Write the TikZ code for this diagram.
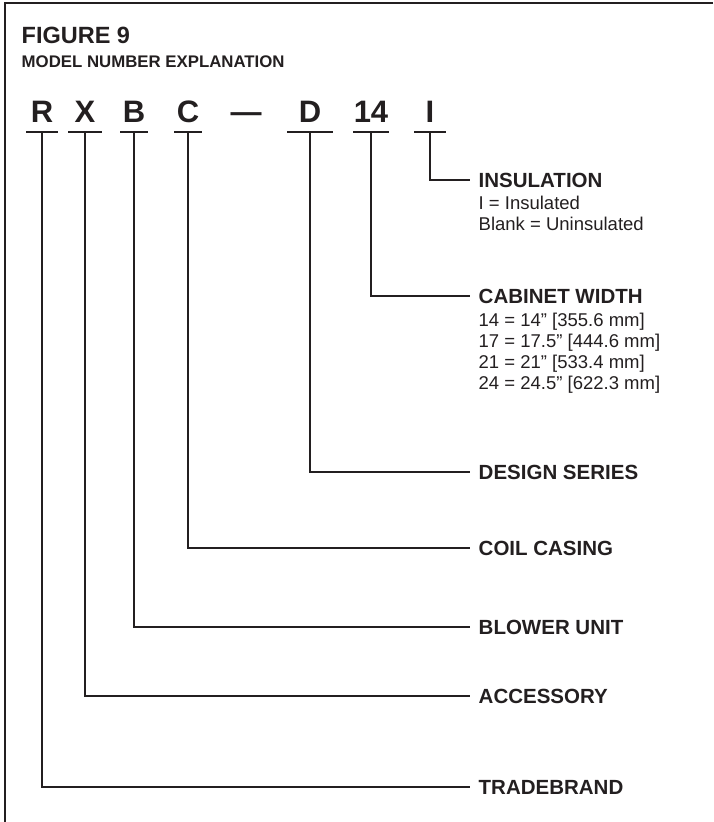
\documentclass[tikz,border=0pt]{standalone}
\usepackage{fontspec}
\setmainfont{Liberation Sans}
\definecolor{ink}{HTML}{231F20}
\begin{document}
\begin{tikzpicture}[x=1pt, y=-1pt, line width=1.4pt, color=ink,
    code/.style={font=\bfseries\fontsize{31}{31}\selectfont, anchor=base, inner sep=0pt},
    field/.style={font=\bfseries\fontsize{20.5}{21}\selectfont, anchor=base west, inner sep=0pt, inner xsep=8pt},
    detail/.style={font=\fontsize{18.5}{21}\selectfont, anchor=base west, inner sep=0pt}]
  \useasboundingbox (0,0) rectangle (713,822);
  % 枠（上と左）
  \draw[line width=2pt] (713,3) -- (5,3) -- (5,822);
  % 見出し
  \node[anchor=base west, inner sep=0pt, font=\bfseries\fontsize{23.5}{24}\selectfont] (fig) at (21,43) {FIGURE 9};
  \node[anchor=base west, inner sep=0pt, font=\bfseries\fontsize{16.8}{17}\selectfont] (expl) at (21,67) {MODEL NUMBER EXPLANATION};
  % 型番の文字と下線
  \foreach \n/\x/\w in {R/42/16, X/85/17, B/134/14, C/188/14, D/310/23, 14/371/18, I/430/16} {
    \node[code] (c\n) at (\x,122) {\n};
    \coordinate (b\n) at (\x,132);
    \draw ([xshift=-\w pt]b\n) -- ([xshift=\w pt]b\n);
  }
  \node[code] (dash) at (246,122) {—};
  % 項目名
  \node[field] (tIns) at (470,187) {INSULATION};
  \foreach \t [count=\i] in {I = Insulated, Blank = Uninsulated}
    \node[detail] (ins\i) at (478,188+21*\i) {\t};
  \node[field] (tCab) at (470,303) {CABINET WIDTH};
  \foreach \t [count=\i] in {14 = 14” [355.6 mm], 17 = 17.5” [444.6 mm], 21 = 21” [533.4 mm], 24 = 24.5” [622.3 mm]}
    \node[detail] (cw\i) at (478,305+21*\i) {\t};
  \node[field] (tDes) at (470,479) {DESIGN SERIES};
  \node[field] (tCoil) at (470,555) {COIL CASING};
  \node[field] (tBlow) at (470,634) {BLOWER UNIT};
  \node[field] (tAcc) at (470,703) {ACCESSORY};
  \node[field] (tTrade) at (470,794) {TRADEBRAND};
  % 引き出し線
  \draw (bI) |- (tIns.west);
  \draw (b14) |- (tCab.west);
  \draw (bD) |- (tDes.west);
  \draw (bC) |- (tCoil.west);
  \draw (bB) |- (tBlow.west);
  \draw (bX) |- (tAcc.west);
  \draw (bR) |- (tTrade.west);
\end{tikzpicture}
\end{document}
